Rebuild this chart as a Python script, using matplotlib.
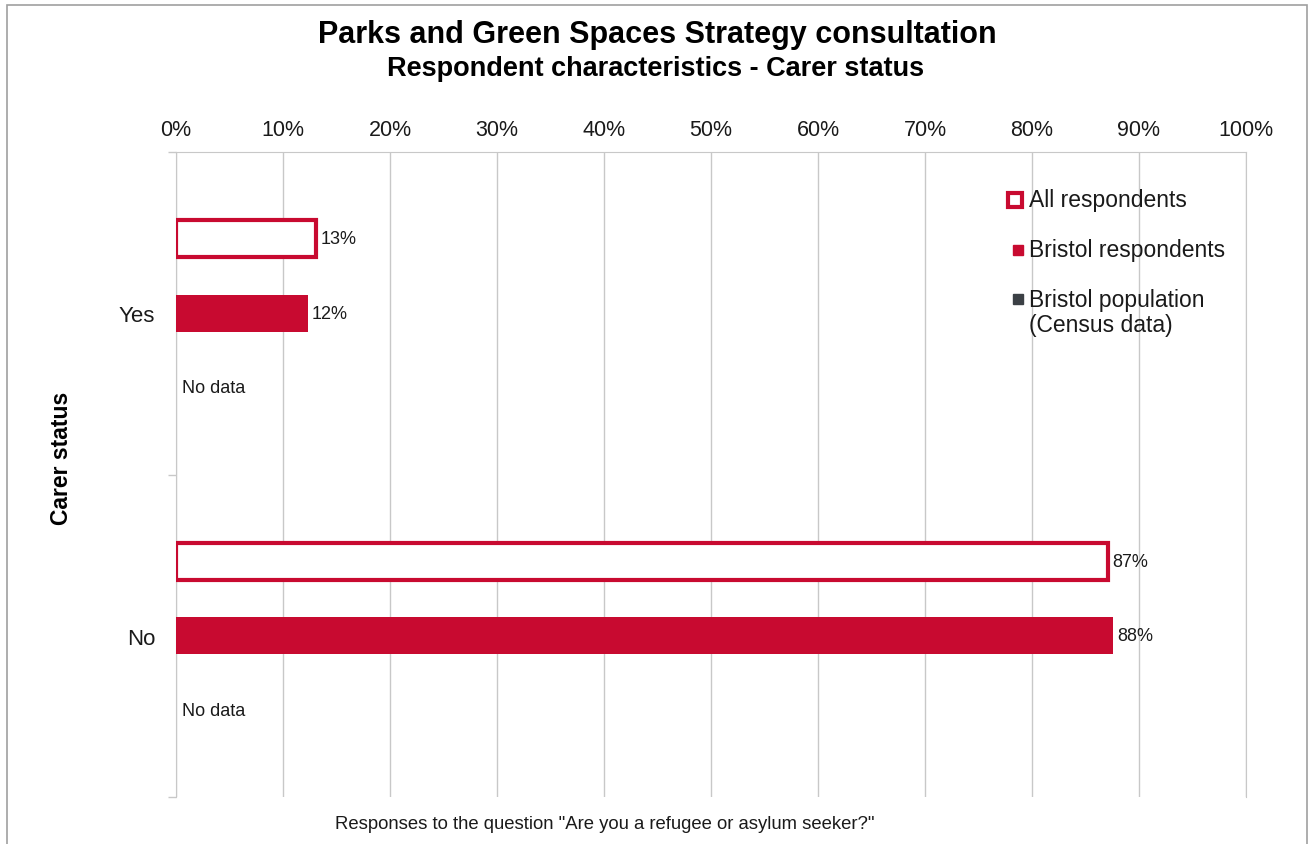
import matplotlib
matplotlib.use("Agg")
import matplotlib.pyplot as plt
from matplotlib.patches import Rectangle
from matplotlib.lines import Line2D

# Data
categories = ["Yes", "No"]
all_respondents = [13.1, 87.1]
bristol_respondents = [12.3, 87.6]
census_note = ["No data", "No data"]
series_names = ["All respondents", "Bristol respondents", "Bristol population\n(Census data)"]
x_ticks = list(range(0, 101, 10))

RED = "#C80A30"
DARK = "#3B4045"
GRID = "#C8C8C8"
TXT = "#1a1a1a"

plt.rcParams["font.family"] = ["Liberation Sans", "DejaVu Sans"]

fig = plt.figure(figsize=(13.13, 8.45), dpi=100)
W, H = 1313, 845
ax = fig.add_axes([176 / W, 1 - 798 / H, (1246 - 176) / W, (798 - 153) / H])

slot = 0.231
bar_h = 0.115
for i, cat in enumerate(categories):
    c = i + 0.5
    ax.barh(c - slot, all_respondents[i], height=bar_h, facecolor="white",
            edgecolor=RED, linewidth=3, zorder=3)
    ax.barh(c, bristol_respondents[i], height=bar_h, color=RED, zorder=3)
    ax.text(all_respondents[i] + 0.4, c - slot, f"{all_respondents[i]:.0f}%",
            va="center", ha="left", fontsize=13, color=TXT)
    ax.text(bristol_respondents[i] + 0.4, c, f"{bristol_respondents[i]:.0f}%",
            va="center", ha="left", fontsize=13, color=TXT)
    ax.text(0.6, c + slot, census_note[i], va="center", ha="left",
            fontsize=13, color=TXT)

ax.set_xlim(0, 100)
ax.set_ylim(2, 0)
ax.xaxis.tick_top()
ax.set_xticks(x_ticks)
ax.set_xticklabels([f"{t}%" for t in x_ticks], fontsize=15.5)
ax.tick_params(axis="x", length=0, pad=9, colors=TXT)
ax.grid(axis="x", color=GRID, linewidth=1, zorder=0)

# category labels centred, divider ticks between groups
ax.set_yticks([0, 1, 2])
ax.set_yticklabels([])
ax.set_yticks([0.5, 1.5], minor=True)
ax.set_yticklabels(categories, minor=True, fontsize=16)
ax.tick_params(axis="y", which="major", length=6, color=GRID, width=1)
ax.tick_params(axis="y", which="minor", length=0, pad=15, colors=TXT)

ax.spines["bottom"].set_visible(False)
for s in ["top", "left", "right"]:
    ax.spines[s].set_color(GRID)

ax.set_ylabel("Carer status", fontsize=16.5, fontweight="bold")
ax.yaxis.set_label_coords(-(176 - 73) / 1070, 0.5 + 17 / 645)

# titles
fig.text(657 / W, 1 - 43 / H, "Parks and Green Spaces Strategy consultation",
         ha="center", va="baseline", fontsize=22, fontweight="bold")
fig.text(656 / W, 1 - 76 / H, "Respondent characteristics - Carer status",
         ha="center", va="baseline", fontsize=19.5, fontweight="bold")
fig.text(605 / W, 1 - 825 / H,
         'Responses to the question "Are you a refugee or asylum seeker?"',
         ha="center", va="center", fontsize=13.3, color=TXT)

# legend, drawn by hand so the two-line entry keeps its marker on the first line
legend_rows = [201, 251, 300]
legend_styles = [
    dict(markersize=10.5, markerfacecolor="white", markeredgecolor=RED, markeredgewidth=3),
    dict(markersize=7.5, markerfacecolor=RED, markeredgecolor=RED),
    dict(markersize=7.5, markerfacecolor=DARK, markeredgecolor=DARK),
]
legend_marker_x = [1015, 1018, 1018]
for name, ypix, style, mx in zip(series_names, legend_rows, legend_styles, legend_marker_x):
    fig.add_artist(Line2D([mx / W], [1 - ypix / H], marker="s", linestyle="none",
                          transform=fig.transFigure, **style))
    first, *rest = name.split("\n")
    fig.text(1029 / W, 1 - ypix / H, first, ha="left", va="center",
             fontsize=16.5, color=TXT)
    for k, line in enumerate(rest, start=1):
        fig.text(1029 / W, 1 - (ypix + 26 * k) / H, line, ha="left", va="center",
                 fontsize=16.5, color=TXT)

# outer frame
fig.patches.append(Rectangle((7 / W, -0.05), (1307 - 7) / W, 1.05 - 6 / H,
                             transform=fig.transFigure, fill=False,
                             edgecolor="#A0A0A0", linewidth=1.2))

fig.savefig("out.png", dpi=100, facecolor="white")
